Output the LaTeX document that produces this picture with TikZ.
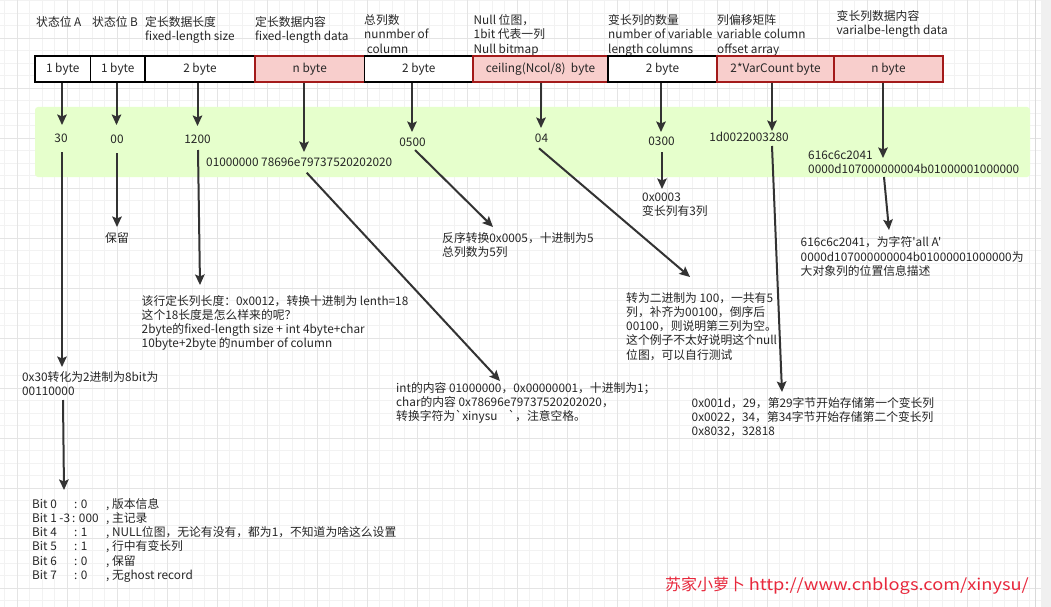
\documentclass[tikz,border=0pt]{standalone}
\usepackage{fontspec}
\usepackage{graphicx}
\newfontfamily\nf{Noto Sans CJK SC}
\usetikzlibrary{arrows.meta}
\definecolor{ink}{HTML}{262626}
\definecolor{arrc}{HTML}{333333}
\definecolor{pinkfill}{HTML}{F8CECC}
\definecolor{pinkline}{HTML}{A31A1A}
\definecolor{band}{HTML}{E6FFCC}
\definecolor{gridminor}{HTML}{F2F2F2}
\definecolor{gridmajor}{HTML}{E4E4E4}
\definecolor{wm}{HTML}{E8283C}
\begin{document}
\begin{tikzpicture}[x=1pt,y=-1pt,
  txt/.style={font=\nf\fontsize{11.8}{14.3}\selectfont, text=ink, inner sep=0pt, anchor=base west, align=left},
  ctxt/.style={font=\nf\fontsize{11.8}{14.3}\selectfont, text=ink, inner sep=0pt, anchor=center},
  cell/.style={draw=black, line width=1.4pt, fill=white, minimum height=26pt, inner sep=0pt, text height=9pt, text depth=1pt, font=\nf\fontsize{11.8}{14.3}\selectfont, text=ink},
  pcell/.style={cell, draw=pinkline, fill=pinkfill},
  arr/.style={draw=arrc, line width=2pt, -{Stealth[length=10.5pt,width=9.5pt,inset=2pt]}}
]
\useasboundingbox (0,0) rectangle (1051,607);
\fill[white] (0,0) rectangle (1051,607);
% grid
\foreach \i in {0,...,83} {
  \pgfmathsetmacro{\gx}{4.5+12.5*\i}
  \draw[gridminor, line width=0.7pt] (\gx,0) -- (\gx,607);
}
\foreach \j in {0,...,48} {
  \pgfmathsetmacro{\gy}{0.5+12.5*\j}
  \draw[gridminor, line width=0.7pt] (0,\gy) -- (1051,\gy);
}
\foreach \i in {0,...,20} {
  \pgfmathsetmacro{\gx}{17+50*\i}
  \draw[gridmajor, line width=0.7pt] (\gx,0) -- (\gx,607);
}
\foreach \j in {0,...,12} {
  \pgfmathsetmacro{\gy}{-12+50*\j}
  \draw[gridmajor, line width=0.7pt] (0,\gy) -- (1051,\gy);
}
\fill[gray!12] (1041,0) rectangle (1051,607);
\draw[gray!30, line width=0.7pt] (1035,0) -- (1035,607);

% header labels (anchor = baseline of last line)
\node[txt] (hA) at (36,27) {状态位 A};
\node[txt] (hB) at (92,27) {状态位 B};
\node[txt] (h3) at (145,41) {定长数据长度\\fixed-length size};
\node[txt] (h4) at (255,41) {定长数据内容\\fixed-length data};
\node[txt] (h5) at (364,53.3) {总列数\\nunmber of\\\ column};
\node[txt] (h6) at (473.5,53.3) {Null 位图，\\1bit 代表一列\\Null bitmap};
\node[txt] (h7) at (608,53.3) {变长列的数量\\number of variable\\length columns};
\node[txt] (h8) at (717,53.3) {列偏移矩阵\\variable column\\offset array};
\node[txt] (h9) at (836.5,35) {变长列数据内容\\varialbe-length data};

% green band
\fill[band, rounded corners=3pt] (35,107) rectangle (1030,177);

% cells
\node[cell, minimum width=55.5pt] (c1) at (62.75,69) {1 byte};
\node[cell, minimum width=54.5pt] (c2) at (117.75,69) {1 byte};
\node[cell, minimum width=110pt] (c3) at (200,69) {2 byte};
\node[pcell, minimum width=109.5pt] (c4) at (309.75,69) {n byte};
\node[cell, minimum width=108.5pt] (c5) at (418.75,69) {2 byte};
\node[pcell, minimum width=135pt] (c6) at (540.5,69) {ceiling(Ncol/8)\ \ byte};
\node[cell, minimum width=109pt] (c7) at (662.5,69) {2 byte};
\node[pcell, minimum width=117pt] (c8) at (775.5,69) {2*VarCount byte};
\node[pcell, minimum width=109pt] (c9) at (888.5,69) {n byte};

% band values
\node[ctxt] (v1) at (61,138) {30};
\node[ctxt] (v2) at (117,139) {00};
\node[ctxt] (v3) at (197.5,139) {1200};
\node[txt] (v4) at (206,166.5) {01000000 78696e79737520202020};
\node[ctxt] (v5) at (412.5,142) {0500};
\node[ctxt] (v6) at (541.5,138) {04};
\node[ctxt] (v7) at (661.5,141) {0300};
\node[ctxt] (v8) at (749,137) {1d0022003280};
\node[txt] (v9) at (808,173.5) {616c6c2041\\0000d107000000004b01000001000000};

% tips from cells
\coordinate (t1) at (62,125);
\coordinate (t2) at (116.5,125);
\coordinate (t3) at (197.5,126);
\coordinate (t4) at (304,152);
\coordinate (t5) at (412,132);
\coordinate (t6) at (541,128);
\coordinate (t7) at (661,132);
\coordinate (t8) at (772,131);
\coordinate (t9) at (883,158);
\draw[arr] ([xshift=-0.75pt]c1.south) -- (t1);
\draw[arr] ([xshift=-1.25pt]c2.south) -- (t2);
\draw[arr] ([xshift=-2.5pt]c3.south) -- (t3);
\draw[arr] ([xshift=-5.75pt]c4.south) -- (t4);
\draw[arr] ([xshift=-6.75pt]c5.south) -- (t5);
\draw[arr] ([xshift=0.5pt]c6.south) -- (t6);
\draw[arr] ([xshift=-1.5pt]c7.south) -- (t7);
\draw[arr] ([xshift=-3.5pt]c8.south) -- (t8);
\draw[arr] ([xshift=-5.5pt]c9.south) -- (t9);

% lower notes (anchor = baseline of last line)
\node[txt] (n2) at (105,242) {保留};
\node[txt] (n3) at (141.5,347.9) {该行定长列长度：0x0012，转换十进制为 lenth=18\\这个18长度是怎么样来的呢？\\2byte的fixed-length size + int 4byte+char\\10byte+2byte 的number of column};
\node[txt] (n1) at (22,395.3) {0x30转化为2进制为8bit为\\00110000};
\node[txt] (n5) at (442,256.3) {反序转换0x0005，十进制为5\\总列数为5列};
\node[txt] (n4) at (396,420.6) {int的内容 01000000，0x00000001，十进制为1；\\char的内容 0x78696e79737520202020，\\转换字符为`xinysu\ \ \ \ `，注意空格。};
\node[txt] (n6) at (626,359.2) {转为二进制为 100，一共有5\\列，补齐为00100，倒序后\\00100，则说明第三列为空。\\这个例子不太好说明这个null\\位图，可以自行测试};
\node[txt] (n7) at (642,215.3) {0x0003\\变长列有3列};
\node[txt] (n8) at (691.5,435.6) {0x001d，29，第29字节开始存储第一个变长列\\0x0022，34，第34字节开始存储第二个变长列\\0x8032，32818};
\node[txt] (n9) at (800.5,275.3) {616c6c2041，为字符'all A'\\0000d107000000004b01000001000000为\\大对象列的位置信息描述};

% bit table
\foreach \k/\a/\b/\c in {0/Bit 0/: 0/{, 版本信息}, 2/Bit 4/: 1/{, NULL位图，无论有没有，都为1，不知道为啥这么设置}, 3/Bit 5/: 1/{, 行中有变长列}, 4/Bit 6/: 0/{, 保留}, 5/Bit 7/: 0/{, 无ghost record}} {
  \node[txt] (ba\k) at (32,{508+14.3*\k}) {\a};
  \node[txt] (bb\k) at (74,{508+14.3*\k}) {\b};
  \node[txt] (bc\k) at (106,{508+14.3*\k}) {\c};
}
\node[txt] (ba1) at (32,522.3) {Bit 1 -3};
\node[txt] (bb1) at (72,522.3) {: 000};
\node[txt] (bc1) at (106,522.3) {, 主记录};

% lower connectors
\coordinate (s1) at (62,152);
\coordinate (u1) at (62,367);
\coordinate (s1b) at (63,400);
\coordinate (u1b) at (64,490);
\coordinate (s2) at (117,153);
\coordinate (u2) at (117,227);
\coordinate (s3) at (198,150);
\coordinate (u3) at (200,285);
\coordinate (s4) at (306.7,172.7);
\coordinate (u4) at (500,381);
\coordinate (s5) at (415,150);
\coordinate (u5) at (493,227);
\coordinate (s6) at (539,148.3);
\coordinate (u6) at (690,277);
\coordinate (s7) at (662,152);
\coordinate (u7) at (662,189);
\coordinate (s8) at (772,146);
\coordinate (u8) at (782,392);
\coordinate (s9) at (884,177);
\coordinate (u9) at (889,230);
\draw[arr] (s1) -- (u1);
\draw[arr] (s1b) -- (u1b);
\draw[arr] (s2) -- (u2);
\draw[arr] (s3) -- (u3);
\draw[arr] (s4) -- (u4);
\draw[arr] (s5) -- (u5);
\draw[arr] (s6) -- (u6);
\draw[arr] (s7) -- (u7);
\draw[arr] (s8) -- (u8);
\draw[arr] (s9) -- (u9);

% watermark
\node[font=\nf\fontsize{16}{18}\selectfont, text=wm, inner sep=0pt, anchor=base west] (wmk) at (665,590) {苏家小萝卜 \scalebox{1.14}[1]{http://www.cnblogs.com/xinysu/}};
\end{tikzpicture}
\end{document}
